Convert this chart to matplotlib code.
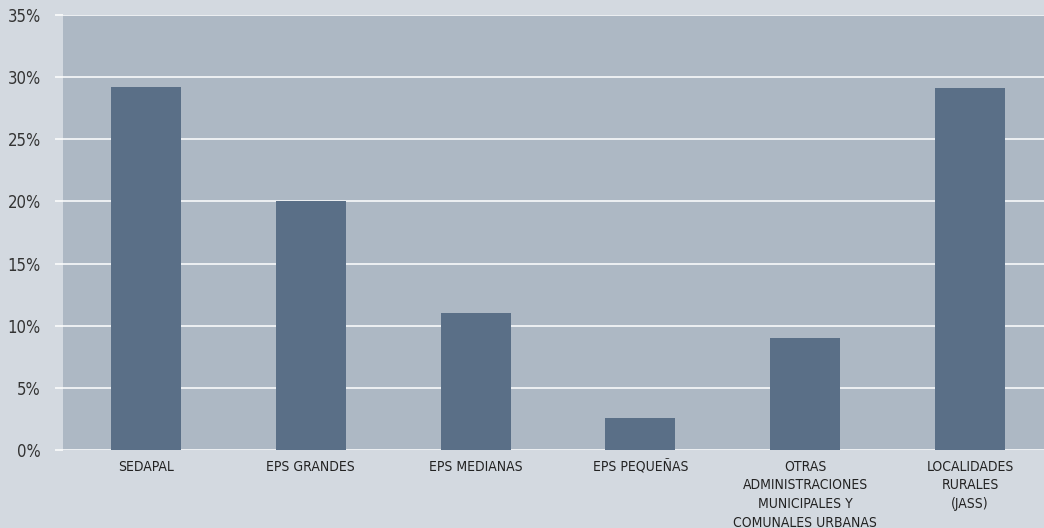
import matplotlib
matplotlib.use("Agg")
import matplotlib.pyplot as plt
from matplotlib.ticker import FuncFormatter

categories = ["SEDAPAL", "EPS GRANDES", "EPS MEDIANAS", "EPS PEQUEÑAS",
              "OTRAS\nADMINISTRACIONES\nMUNICIPALES Y\nCOMUNALES URBANAS",
              "LOCALIDADES\nRURALES\n(JASS)"]
values = [29.2, 20.0, 11.0, 2.6, 9.0, 29.1]
yticks = [0, 5, 10, 15, 20, 25, 30, 35]

plt.rcParams['font.family'] = ['DejaVu Sans']
plt.rcParams['font.stretch'] = 'condensed'

fig = plt.figure(figsize=(10.44, 5.28), dpi=100)
fig.patch.set_facecolor('#d3d9e0')
ax = fig.add_axes([63/1044, 1 - 450/528, (1044-63)/1044, (450-15)/528])
ax.set_facecolor('#adb8c4')

x = list(range(len(categories)))
ax.bar(x, values, width=0.425, color='#5a6f87', zorder=3)

ax.set_ylim(0, 35)
ax.set_xlim(-0.504, 5.449)
ax.set_yticks(yticks)
ax.yaxis.set_major_formatter(FuncFormatter(lambda v, p: f"{int(v)}%"))
ax.yaxis.grid(True, color='white', linewidth=1.1, zorder=1)
ax.set_axisbelow(True)
ax.set_xticks(x)
ax.set_xticklabels(categories, fontsize=10, color='#222222', linespacing=1.42)
ax.tick_params(axis='x', length=0, pad=7)
ax.tick_params(axis='y', length=6, width=1.1, color='white', labelsize=12,
               labelcolor='#333333', pad=10)
for s in ax.spines.values():
    s.set_visible(False)

fig.savefig("out.png", dpi=100, facecolor=fig.get_facecolor())
